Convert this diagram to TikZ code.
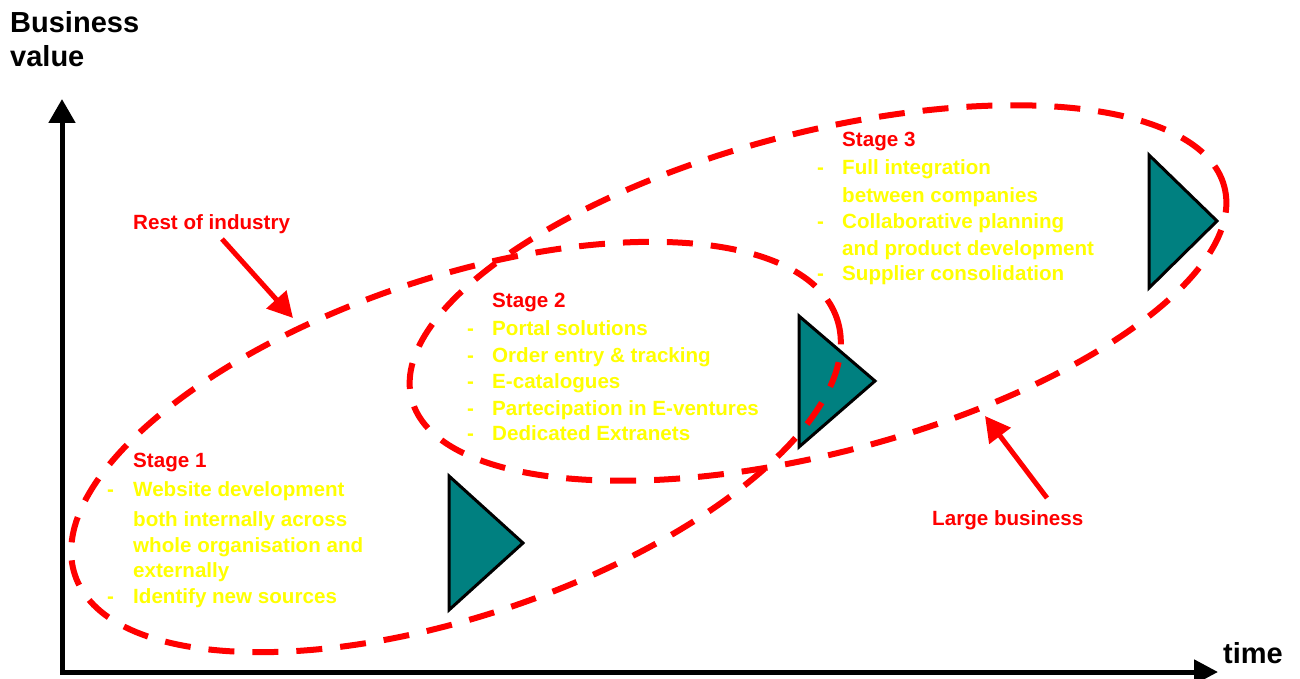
\documentclass[tikz,border=0pt]{standalone}
\usepackage{fontspec}
\setmainfont{Liberation Sans}
\usetikzlibrary{arrows.meta}
\definecolor{stagered}{HTML}{FF0000}
\definecolor{itemyellow}{HTML}{FFFF00}
\definecolor{markerteal}{HTML}{008080}
\begin{document}
\begin{tikzpicture}[x=1pt,y=-1pt,
  ring/.style={draw=stagered, line width=6pt, dash pattern=on 26pt off 18pt},
  marker/.style={draw=black, line width=3pt, fill=markerteal, line join=miter},
  axis/.style={draw=black, line width=5pt, line join=miter,
    {Triangle[length=24pt,width=26pt]}-{Triangle[length=24pt,width=24pt]}},
  pointer/.style={draw=stagered, line width=5pt, -{Triangle[length=25pt,width=26pt]}},
  axislabel/.style={font=\fontsize{29}{34}\selectfont\bfseries, anchor=base west, inner sep=0pt},
  head/.style={font=\fontsize{20.6}{24}\selectfont\bfseries, text=stagered, anchor=base west, inner sep=0pt},
  item/.style={font=\fontsize{20.6}{24}\selectfont\bfseries, text=itemyellow, anchor=base west, inner sep=0pt},
  tag/.style={font=\fontsize{20.6}{24}\selectfont\bfseries, text=stagered, anchor=base west, inner sep=0pt}]
\useasboundingbox (0,0) rectangle (1300,679);

% axes
\coordinate (ytop) at (62,99);
\coordinate (origin) at (62,672);
\coordinate (xend) at (1218,672);
\draw[axis] (ytop) -- (origin) -- (xend);
\node[axislabel] (bv1) at (10,33) {Business};
\node[axislabel] (bv2) at (10,67) {value};
\node[axislabel] (time) at (1223,663) {time};

% stage markers
\draw[marker] (449,476) -- (449,610) -- (523,543) -- cycle;
\draw[marker] (799,316) -- (799,447) -- (875,381) -- cycle;
\draw[marker] (1149,155) -- (1149,288) -- (1217,221) -- cycle;

% industry groups
\draw[ring, rotate around={18.6:(456,447)}] (456,447) ellipse [x radius=402, y radius=169];
\draw[ring, rotate around={14.65:(818,293)}] (818,293) ellipse [x radius=420, y radius=160];

% group labels and pointers
\node[tag] (rest) at (133,229) {Rest of industry};
\coordinate (rest-tail) at (222,239);
\coordinate (rest-tip) at (293,318);
\draw[pointer] (rest-tail) -- (rest-tip);
\node[tag] (large) at (932,525) {Large business};
\coordinate (large-tail) at (1047,498);
\coordinate (large-tip) at (985,416);
\draw[pointer] (large-tail) -- (large-tip);

% stage 1
\node[head] (s1) at (133,467) {Stage 1};
\node[item] (s1d1) at (107,496) {-};
\node[item] (s1a) at (133,496) {Website development};
\node[item] (s1b) at (133,526) {both internally across};
\node[item] (s1c) at (133,552) {whole organisation and};
\node[item] (s1e) at (133,577) {externally};
\node[item] (s1d2) at (107,603) {-};
\node[item] (s1f) at (133,603) {Identify new sources};

% stage 2
\node[head] (s2) at (492,307) {Stage 2};
\node[item] (s2d1) at (467,335) {-};
\node[item] (s2a) at (492,335) {Portal solutions};
\node[item] (s2d2) at (467,362) {-};
\node[item] (s2b) at (492,362) {Order entry \& tracking};
\node[item] (s2d3) at (467,388) {-};
\node[item] (s2c) at (492,388) {E-catalogues};
\node[item] (s2d4) at (467,415) {-};
\node[item] (s2e) at (492,415) {Partecipation in E-ventures};
\node[item] (s2d5) at (467,440) {-};
\node[item] (s2f) at (492,440) {Dedicated Extranets};

% stage 3
\node[head] (s3) at (842,147) {Stage 3};
\node[item] (s3d1) at (817,175) {-};
\node[item] (s3a) at (842,175) {Full integration};
\node[item] (s3b) at (842,202) {between companies};
\node[item] (s3d2) at (817,228) {-};
\node[item] (s3c) at (842,228) {Collaborative planning};
\node[item] (s3e) at (842,255) {and product development};
\node[item] (s3d3) at (817,280) {-};
\node[item] (s3f) at (842,280) {Supplier consolidation};
\end{tikzpicture}
\end{document}
